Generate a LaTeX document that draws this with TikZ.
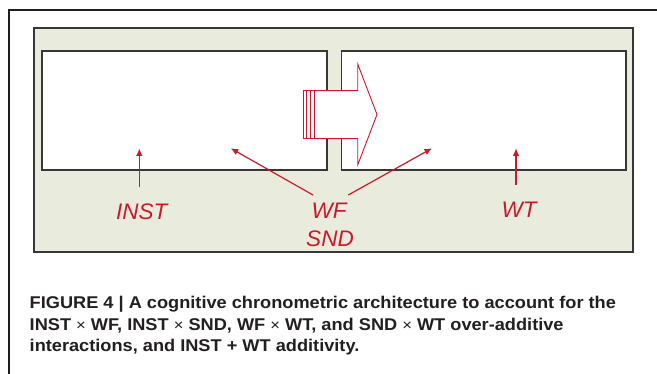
\documentclass[tikz,border=0pt]{standalone}
\usepackage{fontspec}
\setmainfont{Liberation Sans}
\newfontfamily\lblfont{Liberation Sans}
\newfontfamily\capfont[FakeStretch=1.07]{Liberation Sans}
\usetikzlibrary{arrows.meta}

\definecolor{panelgreen}{RGB}{233,236,221}
\definecolor{edgegray}{RGB}{55,55,55}
\definecolor{figred}{RGB}{204,24,40}
\definecolor{captext}{RGB}{35,31,32}

\tikzset{
  framebox/.style={draw=edgegray, line width=1.4pt, inner sep=0pt, outer sep=0pt, anchor=north west},
  panelbox/.style={framebox, fill=panelgreen},
  stagebox/.style={framebox, fill=white},
  lbl/.style={text=figred, inner sep=0pt, font=\lblfont\itshape\fontsize{22.5}{26}\selectfont},
  ptr/.style={figred, line width=1.2pt, -{Latex[length=7.5pt,width=6.5pt]}},
  flow/.style={draw=figred, line width=0.9pt, fill=white, line join=miter},
  captionline/.style={text=captext, inner sep=0pt, anchor=base west, font=\capfont\bfseries\fontsize{17}{20}\selectfont},
}
\newcommand{\tms}{ {\mdseries\fontsize{15.5}{18}\selectfont ×} }

\begin{document}
\begin{tikzpicture}[x=1pt, y=-1pt]
\useasboundingbox (0,0) rectangle (657,374);
\fill[white] (0,0) rectangle (657,374);

% page frame (open to the right and below)
\draw[line width=2.2pt, black!88] (657,10) -- (8.7,10) -- (8.7,374);

% background panel and the two processing stages
\node[panelbox, minimum width=599pt, minimum height=224pt] (panel) at (34,28) {};
\node[stagebox, minimum width=285pt, minimum height=119pt] (stageA) at (42,51) {};
\node[stagebox, minimum width=284.3pt, minimum height=119pt] (stageB) at (341.7,51) {};

% cascade arrow from the first stage into the second
\draw[flow] (314,90.7) -- (357.7,90.7) -- (357.7,64) -- (377,114.5)
  -- (357.7,165) -- (357.7,138.7) -- (314,138.7) -- cycle;
\draw[flow] (303,90.7) rectangle (314,138.7);
\draw[figred, line width=0.9pt] (306.7,90.7) -- (306.7,138.7)
  (310.4,90.7) -- (310.4,138.7);

% factor labels
\node[lbl] (inst) at (141.7,212) {INST};
\node[lbl] (wf)   at (329,211)   {WF};
\node[lbl] (snd)  at (330,238.5) {SND};
\node[lbl] (wt)   at (519,210)   {WT};

% where each factor acts
\coordinate (instTail) at (139.3,187);
\coordinate (instTip)  at (139.3,148.5);
\coordinate (wfTailL)  at (313,195);
\coordinate (wfTipL)   at (230.7,148.3);
\coordinate (wfTailR)  at (348.3,195);
\coordinate (wfTipR)   at (432,148.3);
\coordinate (wtTail)   at (516,185);
\coordinate (wtTip)    at (516,148.3);

\draw[ptr] (instTail) -- (instTip);
\draw[ptr] (wfTailL) -- (wfTipL);
\draw[ptr] (wfTailR) -- (wfTipR);
\draw[ptr] (wtTail) -- (wtTip);

% caption
\node[captionline] (cap1) at (29.5,308.5) {FIGURE 4 | A cognitive chronometric architecture to account for the};
\node[captionline] (cap2) at (29.5,330.3) {INST\tms WF, INST\tms SND, WF\tms WT, and SND\tms WT over-additive};
\node[captionline] (cap3) at (29.5,352)   {interactions, and INST + WT additivity.};
\end{tikzpicture}
\end{document}
